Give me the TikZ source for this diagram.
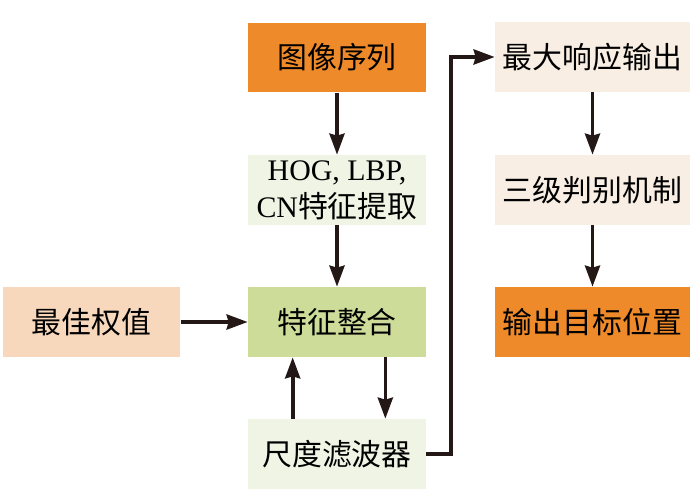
\documentclass[tikz,border=0pt]{standalone}
\usepackage{fontspec}
\setmainfont{Liberation Serif}
\newfontfamily\cjk{Noto Sans CJK SC}
\usepackage{tikz}
\usetikzlibrary{arrows.meta, positioning}
\definecolor{boxorange}{HTML}{EE8A2A}
\definecolor{boxmint}{HTML}{F0F4E5}
\definecolor{boxpeach}{HTML}{F8D8BC}
\definecolor{boxgreen}{HTML}{CDDD99}
\definecolor{boxcream}{HTML}{F8EEE3}
\definecolor{inkblack}{HTML}{231815}
\tikzstyle{arrow} = [line width=2.1pt, -{Stealth[length=0.42cm, width=0.3cm, inset=0.04cm]}, inkblack]
\tikzset{box/.style={minimum width=3.56cm, minimum height=1.4cm, inner sep=0pt, align=center, font=\fontsize{17}{21}\selectfont}, wide/.style={box, minimum width=3.9cm}}

\begin{document}
\begin{tikzpicture}[x=0.02cm, y=-0.02cm]
        \useasboundingbox (0,0) rectangle (700,500);
        % Left column: feature pipeline
        \node[box, fill=boxorange] (img) at (337,57.5) {\cjk 图像序列};
        \node[box, fill=boxmint] (feat) at (337,190) {HOG, LBP,\\CN{\cjk 特征提取}};
        \node[box, fill=boxgreen] (fuse) at (337,322) {\cjk 特征整合};
        \node[box, fill=boxpeach] (weight) at (91.5,322) {\cjk 最佳权值};
        \node[box, fill=boxmint] (scale) at (337,454) {\cjk 尺度滤波器};
        % Right column: decision
        \node[wide, fill=boxcream] (maxr) at (592.5,57) {\cjk 最大响应输出};
        \node[wide, fill=boxcream] (judge) at (592.5,190) {\cjk 三级判别机制};
        \node[wide, fill=boxorange] (outp) at (592.5,322) {\cjk 输出目标位置};
        % Connectors
        \draw[arrow] (img) -- (feat);
        \draw[arrow] (feat) -- (fuse);
        \draw[arrow] (weight) -- (fuse);
        \draw[arrow] ([xshift=-0.82cm]fuse.south east) -- ([xshift=-0.82cm]scale.north east);
        \draw[arrow] ([xshift=0.9cm]scale.north west) -- ([xshift=0.9cm]fuse.south west);
        \draw[arrow] (scale.east) -- ++(25,0) |- (maxr.west);
        \draw[arrow] (maxr) -- (judge);
        \draw[arrow] (judge) -- (outp);
    \end{tikzpicture}
\end{document}
